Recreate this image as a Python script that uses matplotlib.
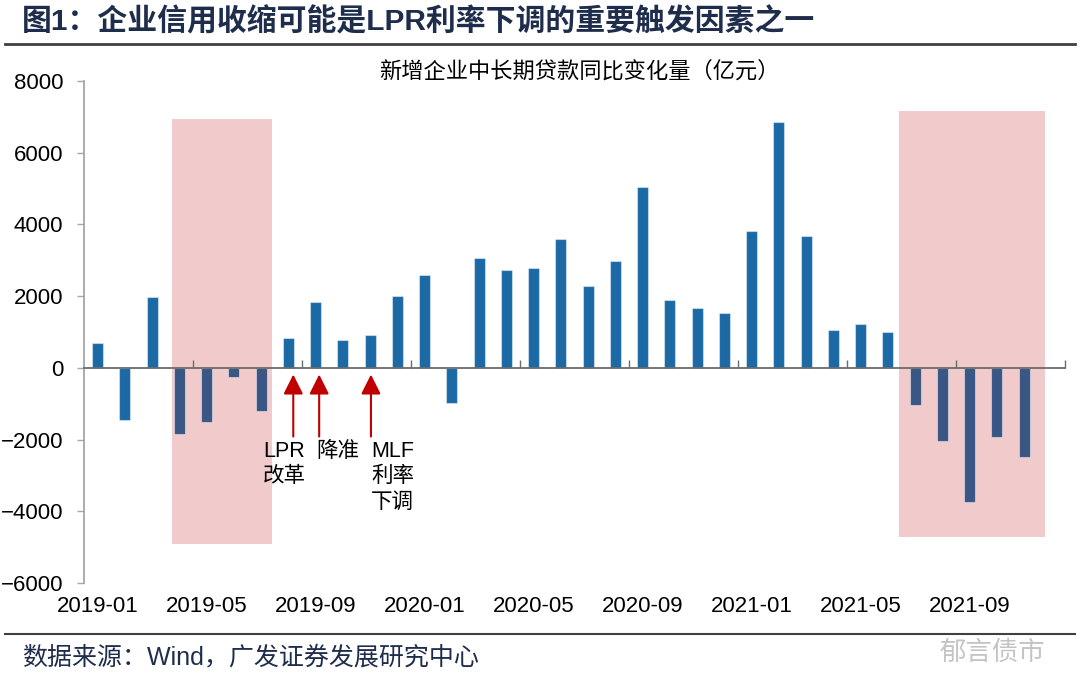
import numpy as np
import matplotlib
matplotlib.use('Agg')
import matplotlib.pyplot as plt
from matplotlib.patches import Rectangle
from matplotlib.lines import Line2D

# 新增企业中长期贷款同比变化量（亿元），2019-01 ~ 2021-11
months = ['2019-01', '2019-02', '2019-03', '2019-04', '2019-05', '2019-06',
          '2019-07', '2019-08', '2019-09', '2019-10', '2019-11', '2019-12',
          '2020-01', '2020-02', '2020-03', '2020-04', '2020-05', '2020-06',
          '2020-07', '2020-08', '2020-09', '2020-10', '2020-11', '2020-12',
          '2021-01', '2021-02', '2021-03', '2021-04', '2021-05', '2021-06',
          '2021-07', '2021-08', '2021-09', '2021-10', '2021-11']
values = [697, -1442, 1969, -1840, -1506, -243,
          -1190, 845, 1840, 789, 920, 2008,
          2600, -980, 3075, 2733, 2789, 3606,
          2295, 2973, 5056, 1896, 1682, 1524,
          3810, 6860, 3670, 1060, 1227, 1012,
          -1032, -2036, -3737, -1925, -2474]
tick_labels = ['2019-01', '2019-05', '2019-09', '2020-01', '2020-05',
               '2020-09', '2021-01', '2021-05', '2021-09']
n_slots = 36  # 轴一直画到 2021-12

# 阴影区间（类别坐标 / 数值）
shade_x = [(2.74, 6.39), (29.42, 34.76)]
shade_y = [(-4900, 6950), (-4705, 7155)]

# 政策事件标注
event_x = [7.18, 8.13, 10.03]
event_text = ['LPR\n改革', '降准', 'MLF\n利率\n下调']
event_text_x = [6.07, 8.02, 10.03]

BLUE = '#1B6AA5'
DARK = '#3A5684'
PINK = '#F1CBCC'
RED = '#C00000'
NAVY = '#1F2D4D'
LATIN_CJK = ['Liberation Sans', 'Noto Sans CJK SC']

plt.rcParams['font.family'] = LATIN_CJK

fig = plt.figure(figsize=(10.8, 6.99), dpi=100)
ax = fig.add_axes([84 / 1080, 1 - 583 / 699, 981 / 1080, 502 / 699])

x = np.arange(len(values))
for (x0, x1), (y0, y1) in zip(shade_x, shade_y):
    ax.add_patch(Rectangle((x0, y0), x1 - x0, y1 - y0, facecolor=PINK,
                           edgecolor='none', zorder=1))

in_shade = [any(a <= i <= b for a, b in shade_x) for i in x]
colors = [DARK if s else BLUE for s in in_shade]
ax.bar(x, values, width=0.4, color=colors, edgecolor=(1, 1, 1, 0.45),
       linewidth=0.8, zorder=3)

ax.set_xlim(-0.5, n_slots - 0.5)
ax.set_ylim(-6000, 8000)
ax.set_yticks(np.arange(-6000, 8001, 2000))
ax.tick_params(axis='y', direction='out', length=5, width=1, color='#A6A6A6',
               labelsize=16, pad=10)

for s in ['top', 'right']:
    ax.spines[s].set_visible(False)
ax.spines['left'].set_color('#A6A6A6')
ax.spines['left'].set_linewidth(1.3)
ax.spines['bottom'].set_position(('data', 0))
ax.spines['bottom'].set_color('#6B6B6B')
ax.spines['bottom'].set_linewidth(1.3)
ax.spines['bottom'].set_zorder(4)
ax.set_xticks(np.arange(3.5, n_slots, 4))
ax.tick_params(axis='x', direction='in', length=6, width=1, color='#6B6B6B',
               labelbottom=False)

sec = ax.secondary_xaxis('bottom')
sec.set_xticks([months.index(m) for m in tick_labels])
sec.set_xticklabels(tick_labels)
sec.tick_params(length=0, labelsize=16, pad=9)
sec.spines['bottom'].set_visible(False)

for ex, txt, tx in zip(event_x, event_text, event_text_x):
    ax.annotate('', xy=(ex, -185), xytext=(ex, -1915),
                arrowprops=dict(arrowstyle='-|>,head_length=0.6,head_width=0.3',
                                mutation_scale=20, lw=1.5, color=RED,
                                shrinkA=0, shrinkB=0), zorder=5)
    ax.text(tx, -2030, txt, ha='left', va='top', fontsize=15.5,
            linespacing=1.3, color='black', zorder=5)

fig.text(579 / 1080, 1 - 72 / 699, '新增企业中长期贷款同比变化量（亿元）',
         ha='center', va='center', fontsize=16, color='black')

fig.text(22 / 1080, 1 - 22 / 699, '图1：企业信用收缩可能是LPR利率下调的重要触发因素之一',
         ha='left', va='center', fontsize=21.5, fontweight='bold', color=NAVY)
fig.add_artist(Line2D([5 / 1080, 1075 / 1080], [1 - 44 / 699] * 2,
                      transform=fig.transFigure, color='#404040', lw=2))
fig.add_artist(Line2D([5 / 1080, 1075 / 1080], [1 - 634 / 699] * 2,
                      transform=fig.transFigure, color='#404040', lw=1.5))
fig.text(22 / 1080, 1 - 657 / 699, '数据来源：Wind，广发证券发展研究中心',
         ha='left', va='center', fontsize=18, color=NAVY)
fig.text(1045 / 1080, 1 - 653 / 699, '郁言债市', ha='right', va='center',
         fontsize=19, color='#C4C4C4')

fig.savefig('out.png', dpi=100)
